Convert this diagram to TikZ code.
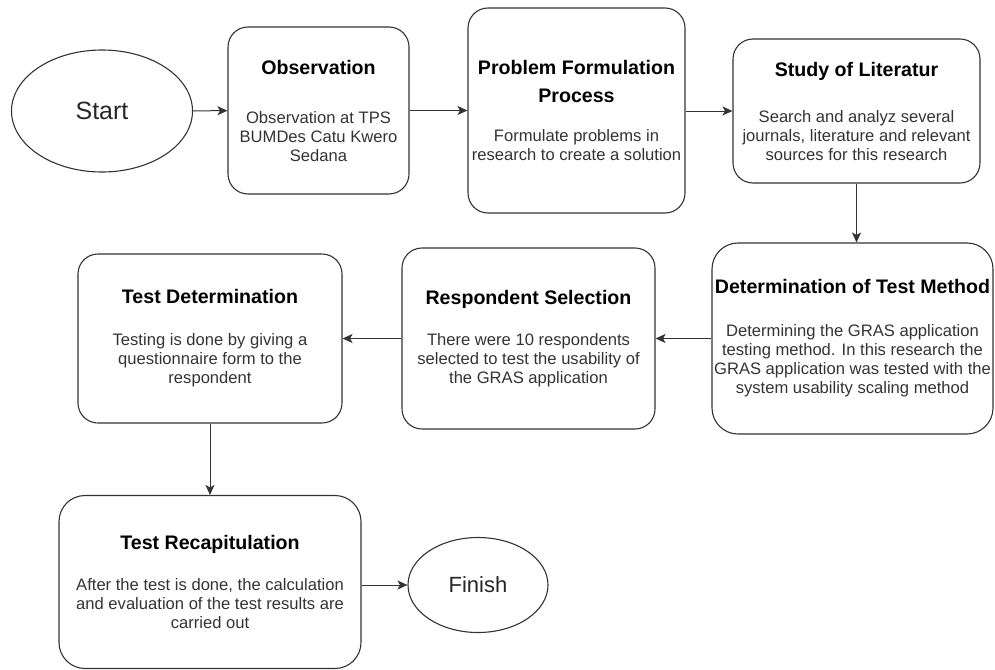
\documentclass[tikz,border=0pt]{standalone}
\usepackage{fontspec}
\setmainfont{Liberation Sans}
\usetikzlibrary{shapes.geometric,arrows.meta}

\newcommand{\boxtitle}[1]{{\color{black}\bfseries\fontsize{19.6}{23}\selectfont #1}}

\begin{document}
\begin{tikzpicture}[x=1pt, y=-1pt,
    box/.style={draw=black!80, line width=1.1pt, rounded corners=20pt, align=center, inner sep=0pt, text=black!80, font=\fontsize{16.6}{19}\selectfont},
    term/.style={draw=black!80, line width=1.1pt, ellipse, inner sep=0pt, text=black!85},
    flow/.style={-{Stealth[length=10pt,width=9pt,inset=2.5pt]}, line width=1pt, draw=black!80}]
    \useasboundingbox (0,0) rectangle (995,669);

    % Inizio e fine
    \node[term, minimum width=181pt, minimum height=122pt, font=\fontsize{25}{30}\selectfont] (start) at (102,111) {Start};
    \node[term, minimum width=140pt, minimum height=95pt, font=\fontsize{22}{26}\selectfont] (finish) at (478,585) {Finish};

    % Prima riga
    \node[box, minimum width=181pt, minimum height=167pt] (obs) at (318.5,110.5) {\boxtitle{Observation}\\[30pt]Observation at TPS\\BUMDes Catu Kwero\\Sedana};
    \node[box, minimum width=217pt, minimum height=205pt] (prob) at (576.5,110.5) {\boxtitle{Problem Formulation}\\[9pt]\boxtitle{Process}\\[20pt]Formulate problems in\\research to create a solution};
    \node[box, minimum width=247pt, minimum height=144pt] (study) at (856.5,111) {\boxtitle{Study of Literatur}\\[27pt]Search and analyz several\\journals, literature and relevant\\sources for this research};

    % Seconda riga
    \node[box, minimum width=281pt, minimum height=191pt, rounded corners=26pt] (detm) at (852.5,338.5) {\boxtitle{Determination of Test Method}\\[24pt]Determining the GRAS application\\testing method. In this research the\\GRAS application was tested with the\\system usability scaling method};
    \node[box, minimum width=253pt, minimum height=181pt] (resp) at (528.5,338.5) {\boxtitle{Respondent Selection}\\[22pt]There were 10 respondents\\selected to test the usability of\\the GRAS application};
    \node[box, minimum width=264pt, minimum height=169pt] (testdet) at (210,338.5) {\boxtitle{Test Determination}\\[23pt]Testing is done by giving a\\questionnaire form to the\\respondent};

    % Terza riga
    \node[box, minimum width=302pt, minimum height=173pt, rounded corners=26pt] (recap) at (210,582) {\boxtitle{Test Recapitulation}\\[22pt]After the test is done, the calculation\\and evaluation of the test results are\\carried out};

    % Frecce
    \draw[flow] (start) -- (obs);
    \draw[flow] (obs) -- (prob);
    \draw[flow] (prob.east |- study) -- (study);
    \draw[flow] (study.south) -- (study.south |- detm.north);
    \draw[flow] (detm) -- (resp);
    \draw[flow] (resp) -- (testdet);
    \draw[flow] (testdet) -- (recap);
    \draw[flow] (recap.east |- finish) -- (finish);
\end{tikzpicture}
\end{document}
